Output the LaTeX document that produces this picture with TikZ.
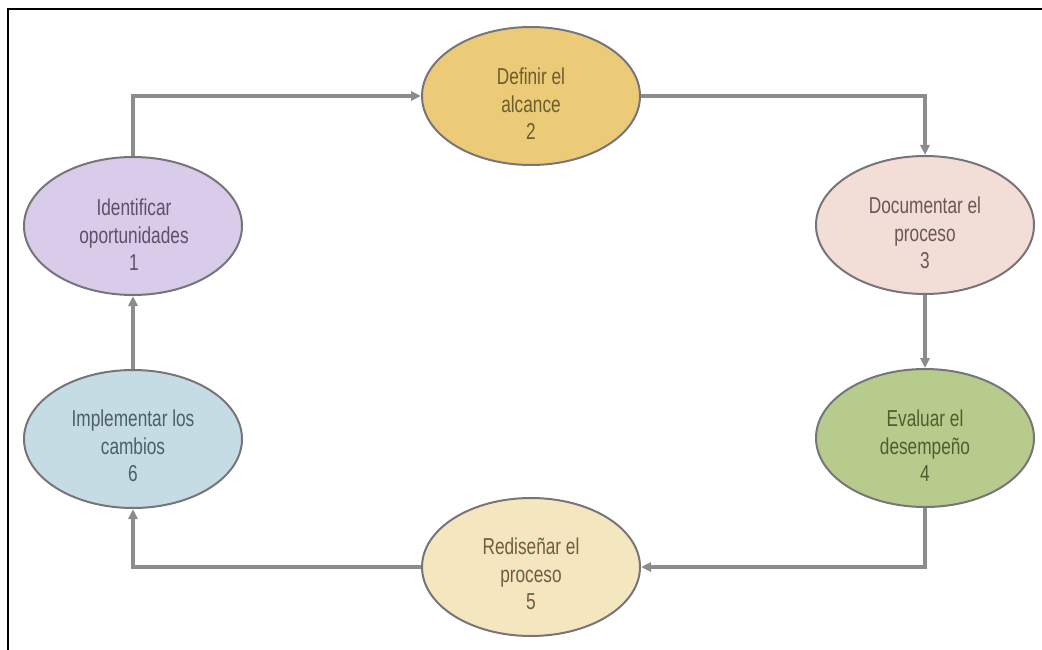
\documentclass[tikz,border=0pt]{standalone}
\usepackage{fontspec}
\setmainfont[FakeStretch=0.75]{Liberation Sans}
\usetikzlibrary{shapes.geometric,arrows.meta}
\definecolor{edge}{HTML}{77747A}
\definecolor{conncol}{HTML}{8C8C8C}
\definecolor{fillA}{HTML}{D9CBEA}
\definecolor{fillB}{HTML}{ECCB78}
\definecolor{fillC}{HTML}{F3DDD7}
\definecolor{fillD}{HTML}{B7CC8C}
\definecolor{fillE}{HTML}{F4E7C0}
\definecolor{fillF}{HTML}{C5DCE4}
\definecolor{txtA}{HTML}{5E5068}
\definecolor{txtB}{HTML}{6E5C2C}
\definecolor{txtC}{HTML}{6A5856}
\definecolor{txtD}{HTML}{4E5E30}
\definecolor{txtE}{HTML}{6C5E40}
\definecolor{txtF}{HTML}{4E5E68}
\tikzset{
  stage/.style={ellipse, draw=edge, line width=2pt, minimum width=218pt, minimum height=138pt, inner sep=0pt},
  stagetext/.style={align=center, font=\fontsize{23}{27.5}\selectfont, inner sep=0pt},
  conn/.style={draw=conncol, line width=3.2pt, -{Triangle[length=10pt,width=9pt]}},
  frameline/.style={draw=black, line width=2.8pt}
}
\begin{document}
\begin{tikzpicture}[x=1pt,y=-1pt]
\useasboundingbox (0,0) rectangle (1042,650);
\coordinate (fa) at (8,650);
\coordinate (fb) at (8,9);
\coordinate (fc) at (1042,9);
\draw[frameline] (fa) -- (fb) -- (fc);

\node[stage, fill=fillA] (e1) at (133,226) {};
\node[stage, fill=fillB] (e2) at (531,96) {};
\node[stage, fill=fillC] (e3) at (925,225) {};
\node[stage, fill=fillD] (e4) at (925,438) {};
\node[stage, fill=fillE] (e5) at (531,567) {};
\node[stage, fill=fillF] (e6) at (133,439) {};

\node[stagetext, text=txtA] (t1) at (134,235) {Identificar\\oportunidades\\1};
\node[stagetext, text=txtB] (t2) at (531,104) {Definir el\\alcance\\2};
\node[stagetext, text=txtC] (t3) at (925,233) {Documentar el\\proceso\\3};
\node[stagetext, text=txtD] (t4) at (925,446) {Evaluar el\\desempeño\\4};
\node[stagetext, text=txtE] (t5) at (531,574) {Rediseñar el\\proceso\\5};
\node[stagetext, text=txtF] (t6) at (133,446) {Implementar los\\cambios\\6};

\draw[conn] (e1.north) |- (e2.west);
\draw[conn] (e2.east) -| (e3.north);
\draw[conn] (e3.south) -- (e4.north);
\draw[conn] (e4.south) |- (e5.east);
\draw[conn] (e5.west) -| (e6.south);
\draw[conn] (e6.north) -- (e1.south);
\end{tikzpicture}
\end{document}
